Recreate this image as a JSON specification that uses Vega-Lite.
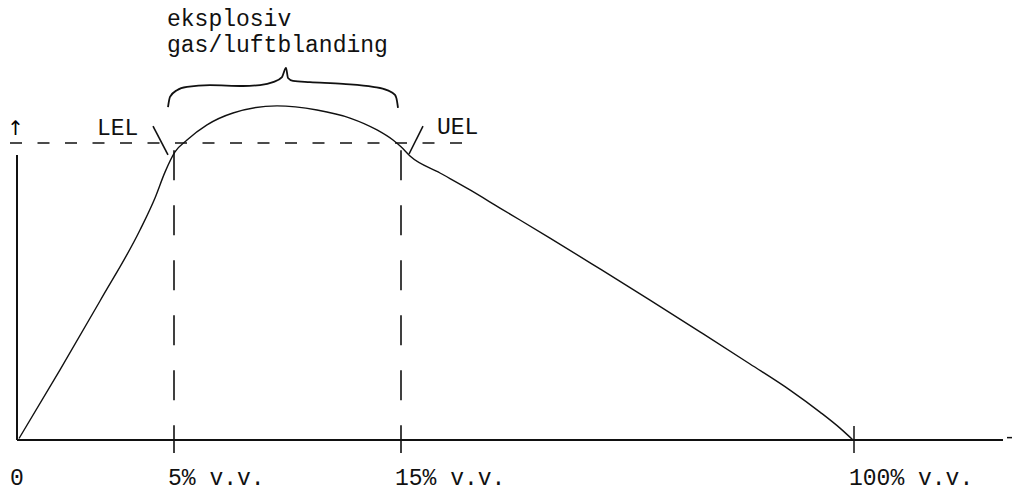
{
  "$schema": "https://vega.github.io/schema/vega-lite/v6.json",
  "autosize": {"type": "fit", "contains": "padding"},
  "width": 1013,
  "height": 491,
  "padding": 0,
  "background": "white",
  "view": {"stroke": null},
  "config": {"text": {"font": "Liberation Mono", "fontSize": 23, "color": "#111"}},
  "datasets": {
    "curve": [
      {"x": 2, "y": 0.5}, {"x": 43, "y": 23.6}, {"x": 83, "y": 46.8}, {"x": 123, "y": 70.7},
      {"x": 138, "y": 81.5}, {"x": 148, "y": 90.2}, {"x": 158, "y": 97.0}, {"x": 170, "y": 101.0},
      {"x": 190, "y": 106.1}, {"x": 216, "y": 110.1}, {"x": 260, "y": 112.5}, {"x": 300, "y": 111.1},
      {"x": 333, "y": 108.4}, {"x": 360, "y": 104.4}, {"x": 376, "y": 101.0}, {"x": 384, "y": 98.7},
      {"x": 393, "y": 95.6}, {"x": 423, "y": 89.9}, {"x": 453, "y": 84.2}, {"x": 483, "y": 78.1},
      {"x": 533, "y": 68.0}, {"x": 583, "y": 57.6}, {"x": 633, "y": 47.1}, {"x": 683, "y": 36.4},
      {"x": 733, "y": 25.6}, {"x": 773, "y": 16.8}, {"x": 803, "y": 9.4}, {"x": 823, "y": 4.0},
      {"x": 836, "y": 0}
    ],
    "brace": [
      {"x": 151, "y": 112.1}, {"x": 153, "y": 115.5}, {"x": 160, "y": 117.8}, {"x": 170, "y": 118.9},
      {"x": 193, "y": 119.5}, {"x": 226, "y": 119.2}, {"x": 243, "y": 119.5}, {"x": 256, "y": 120.5},
      {"x": 265, "y": 122.2}, {"x": 269, "y": 125.3}, {"x": 271, "y": 121.9}, {"x": 276, "y": 120.9},
      {"x": 293, "y": 120.5}, {"x": 326, "y": 119.9}, {"x": 356, "y": 118.9}, {"x": 370, "y": 117.8},
      {"x": 378, "y": 116.2}, {"x": 380, "y": 114.1}, {"x": 381, "y": 111.8}
    ],
    "solid": [
      {"x": 0, "x2": 0, "y": 0, "y2": 96, "w": 2},
      {"x": 0, "x2": 986, "y": 0, "y2": 0, "w": 2.2},
      {"x": 990, "x2": 995, "y": 0.8, "y2": 0.8, "w": 1.5},
      {"x": 837, "x2": 837, "y": 4.7, "y2": -4.4, "w": 1.5},
      {"x": 136, "x2": 151, "y": 105.7, "y2": 96.0, "w": 1.6},
      {"x": 406, "x2": 392, "y": 105.7, "y2": 96.3, "w": 1.6}
    ],
    "hdash": [
      {"x": -7, "x2": 448, "y": 100, "y2": 100}
    ],
    "vdash": [
      {"x": 157, "x2": 157, "y": 97.6, "y2": -4.4},
      {"x": 384, "x2": 384, "y": 97.6, "y2": -4.4}
    ],
    "leftLabels": [
      {"x": 150, "y": 139.4, "text": "eksplosiv"},
      {"x": 150, "y": 130.6, "text": "gas/luftblanding"},
      {"x": 80, "y": 102.7, "text": "LEL"},
      {"x": 420, "y": 103.0, "text": "UEL"},
      {"x": 151, "y": -15.2, "text": "5% v.v."},
      {"x": 378, "y": -15.2, "text": "15% v.v."},
      {"x": 832, "y": -15.2, "text": "100% v.v."}
    ],
    "centerLabels": [
      {"x": 0, "y": -15.2, "text": "0"}
    ],
    "arrow": [
      {"x": -1.5, "y": 102.7, "text": "↑"}
    ]
  },
  "encoding": {
    "x": {"field": "x", "type": "quantitative", "scale": {"domain": [-17, 996], "nice": false, "zero": false}, "axis": null},
    "y": {"field": "y", "type": "quantitative", "scale": {"domain": [-17.172, 148.148], "nice": false, "zero": false}, "axis": null}
  },
  "layer": [
    {
      "data": {"name": "curve"},
      "mark": {"type": "line", "interpolate": "monotone", "color": "#111", "strokeWidth": 1.4},
      "encoding": {"order": {"field": "x", "type": "quantitative"}}
    },
    {
      "data": {"name": "brace"},
      "mark": {"type": "line", "interpolate": "monotone", "color": "#111", "strokeWidth": 1.8},
      "encoding": {"order": {"field": "x", "type": "quantitative"}}
    },
    {
      "data": {"name": "solid"},
      "mark": {"type": "rule", "color": "#111"},
      "encoding": {
        "x2": {"field": "x2"},
        "y2": {"field": "y2"},
        "strokeWidth": {"field": "w", "type": "quantitative", "scale": null}
      }
    },
    {
      "data": {"name": "hdash"},
      "mark": {"type": "rule", "color": "#111", "strokeWidth": 1.6, "strokeDash": [12, 15.5]},
      "encoding": {"x2": {"field": "x2"}, "y2": {"field": "y2"}}
    },
    {
      "data": {"name": "vdash"},
      "mark": {"type": "rule", "color": "#111", "strokeWidth": 1.6, "strokeDash": [30, 25]},
      "encoding": {"x2": {"field": "x2"}, "y2": {"field": "y2"}}
    },
    {
      "data": {"name": "leftLabels"},
      "mark": {"type": "text", "baseline": "alphabetic", "align": "left"},
      "encoding": {"text": {"field": "text"}}
    },
    {
      "data": {"name": "centerLabels"},
      "mark": {"type": "text", "baseline": "alphabetic", "align": "center"},
      "encoding": {"text": {"field": "text"}}
    },
    {
      "data": {"name": "arrow"},
      "mark": {"type": "text", "baseline": "alphabetic", "align": "center", "font": "DejaVu Sans", "fontSize": 20, "color": "#000"},
      "encoding": {"text": {"field": "text"}}
    }
  ]
}
